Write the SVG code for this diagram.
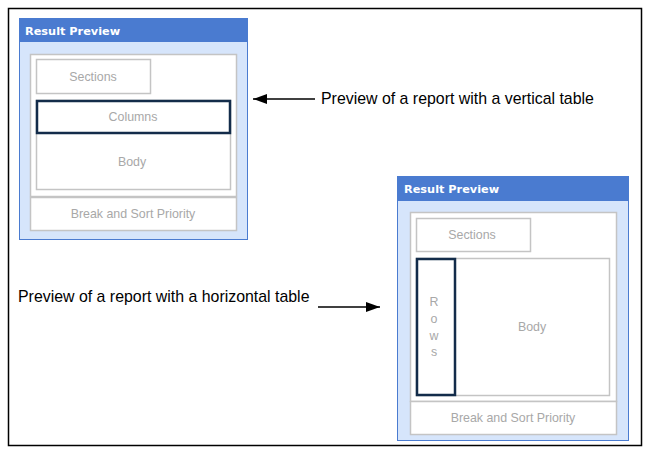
<svg xmlns="http://www.w3.org/2000/svg" width="650" height="454" viewBox="0 0 650 454">
<style>
.panel{fill:#d6e5fb;stroke:#4a7bd0;stroke-width:1}
.hdr{fill:#4a7bd0}
.ht{font-family:"DejaVu Sans",sans-serif;font-weight:bold;font-size:11.3px;fill:#fff}
.box{fill:#fff;stroke:#c4c4c4;stroke-width:1.5}
.sel{fill:none;stroke:#132c4a;stroke-width:2.5}
.lt{font-family:"Liberation Sans",Arial,sans-serif;font-size:12.4px;fill:#a8a8a8;text-anchor:middle}
.cap{font-family:"Liberation Sans",Arial,sans-serif;font-size:15.9px;fill:#000}
</style>
<defs><marker id="ah" markerWidth="14" markerHeight="10" refX="14" refY="5" orient="auto" markerUnits="userSpaceOnUse"><path d="M0,0L14,5L0,10z" fill="#000"/></marker></defs>
<rect x="8.5" y="8.5" width="633" height="437" fill="#fff" stroke="#000" stroke-width="1.5"/>
<g id="preview1">
<rect class="panel" x="19.5" y="18.5" width="228" height="221"/>
<rect class="hdr" x="19" y="18" width="229" height="24"/>
<text class="ht" x="25" y="35">Result Preview</text>
<rect class="box" x="30.5" y="54.5" width="206" height="142"/>
<rect class="box" x="36.5" y="59.5" width="114" height="34"/>
<text class="lt" x="93" y="81">Sections</text>
<rect class="box" x="36.5" y="100.5" width="194" height="89"/>
<rect class="sel" x="37" y="101" width="193" height="32"/>
<text class="lt" x="133" y="121">Columns</text>
<text class="lt" x="132" y="166">Body</text>
<rect class="box" x="30.5" y="197.5" width="206" height="33"/>
<text class="lt" x="133" y="218">Break and Sort Priority</text>
</g>
<g id="preview2">
<rect class="panel" x="397.5" y="176.5" width="231" height="264"/>
<rect class="hdr" x="397" y="176" width="232" height="25"/>
<text class="ht" x="404" y="193">Result Preview</text>
<rect class="box" x="410.5" y="212.5" width="206" height="189"/>
<rect class="box" x="416.5" y="218.5" width="114" height="33"/>
<text class="lt" x="472" y="239">Sections</text>
<rect class="box" x="416.5" y="258.5" width="193" height="137"/>
<rect class="sel" x="417" y="259" width="38" height="136"/>
<text class="lt" x="532" y="331">Body</text>
<text class="lt" x="434" y="306">R</text>
<text class="lt" x="434" y="323">o</text>
<text class="lt" x="434" y="340">w</text>
<text class="lt" x="434" y="356">s</text>
<rect class="box" x="410.5" y="401.5" width="206" height="33"/>
<text class="lt" x="513" y="422">Break and Sort Priority</text>
</g>
<g id="connectors">
<line x1="315" y1="99" x2="253" y2="99" stroke="#000" stroke-width="1.5" marker-end="url(#ah)"/>
<line x1="318" y1="307" x2="380" y2="307" stroke="#000" stroke-width="1.5" marker-end="url(#ah)"/>
</g>
<text class="cap" x="321" y="104">Preview of a report with a vertical table</text>
<text class="cap" x="18" y="302">Preview of a report with a horizontal table</text>
</svg>
